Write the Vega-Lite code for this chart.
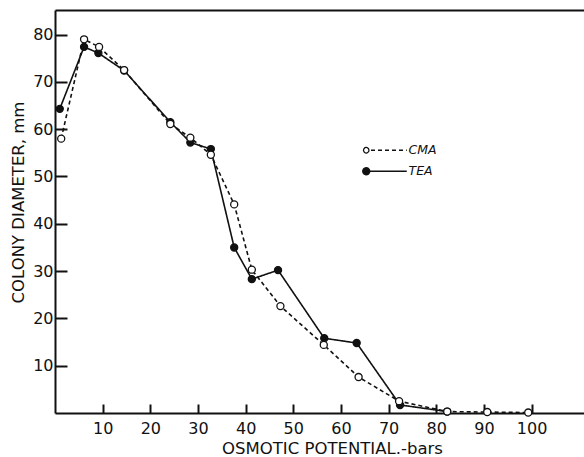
{
  "$schema": "https://vega.github.io/schema/vega-lite/v6.json",
  "width": 529,
  "height": 403,
  "autosize": "none",
  "padding": {"left": 55, "top": 10, "right": 0, "bottom": 44},
  "background": "white",
  "config": {
    "view": {"stroke": null},
    "font": "DejaVu Sans",
    "axis": {"grid": false, "domainColor": "#111", "tickColor": "#111", "labelColor": "#111", "titleColor": "#111", "domainWidth": 2, "tickWidth": 2}
  },
  "data": {"values": [
    {"series": "TEA", "x": 1.0, "y": 64.3},
    {"series": "TEA", "x": 6.1, "y": 77.4},
    {"series": "TEA", "x": 9.1, "y": 76.1},
    {"series": "TEA", "x": 14.5, "y": 72.4},
    {"series": "TEA", "x": 24.2, "y": 61.5},
    {"series": "TEA", "x": 28.4, "y": 57.2},
    {"series": "TEA", "x": 32.7, "y": 55.8},
    {"series": "TEA", "x": 37.6, "y": 35.0},
    {"series": "TEA", "x": 41.3, "y": 28.3},
    {"series": "TEA", "x": 46.8, "y": 30.2},
    {"series": "TEA", "x": 56.5, "y": 15.8},
    {"series": "TEA", "x": 63.3, "y": 14.8},
    {"series": "TEA", "x": 72.4, "y": 1.7},
    {"series": "TEA", "x": 82.3, "y": 0.3},
    {"series": "CMA", "x": 1.3, "y": 58.0},
    {"series": "CMA", "x": 6.1, "y": 79.0},
    {"series": "CMA", "x": 9.25, "y": 77.4},
    {"series": "CMA", "x": 14.5, "y": 72.5},
    {"series": "CMA", "x": 24.2, "y": 61.1},
    {"series": "CMA", "x": 28.4, "y": 58.2},
    {"series": "CMA", "x": 32.7, "y": 54.6},
    {"series": "CMA", "x": 37.6, "y": 44.1},
    {"series": "CMA", "x": 41.3, "y": 30.3},
    {"series": "CMA", "x": 47.3, "y": 22.6},
    {"series": "CMA", "x": 56.4, "y": 14.4},
    {"series": "CMA", "x": 63.7, "y": 7.6},
    {"series": "CMA", "x": 72.2, "y": 2.5},
    {"series": "CMA", "x": 82.3, "y": 0.3},
    {"series": "CMA", "x": 90.7, "y": 0.2},
    {"series": "CMA", "x": 99.3, "y": 0.1}
  ]},
  "resolve": {"axis": {"x": "independent", "y": "independent"}},
  "layer": [
    {
      "mark": {"type": "line", "stroke": "#111", "strokeWidth": 1.6},
      "encoding": {
        "x": {"field": "x", "type": "quantitative", "scale": {"domain": [0, 111], "nice": false, "zero": false},
          "axis": {"orient": "bottom", "values": [10,20,30,40,50,60,70,80,90,100], "tickSize": -9, "labelPadding": 16, "labelFontSize": 16, "title": "OSMOTIC POTENTIAL.-bars", "titleFontSize": 16.5, "titleFontWeight": "normal", "titleX": 277, "titleY": 35, "titleBaseline": "middle", "titleAnchor": "middle"}},
        "y": {"field": "y", "type": "quantitative", "scale": {"domain": [0, 85.2], "nice": false},
          "axis": {"orient": "left", "values": [10,20,30,40,50,60,70,80], "tickSize": -12, "labelPadding": 14, "labelFontSize": 16, "title": "COLONY DIAMETER, mm", "titleFontSize": 16.5, "titleFontWeight": "normal", "titleX": -37, "titleY": 192, "titleBaseline": "middle", "titleAnchor": "middle", "titleAngle": -90}},
        "detail": {"field": "series"},
        "strokeDash": {"field": "series", "type": "nominal",
          "scale": {"domain": ["CMA", "TEA"], "range": [[4, 3], [1, 0]]},
          "legend": {
            "title": null, "orient": "none", "legendX": 305, "legendY": 134,
            "symbolType": "circle",
            "symbolSize": 100, "symbolStrokeColor": "#111", "symbolStrokeWidth": 1.3,
            "labelFontSize": 12.5, "labelFontStyle": "italic", "labelColor": "#111", "labelOffset": 36,
            "rowPadding": 8,
            "encode": {"symbols": {"update": {
              "shape": {"signal": "datum.value === 'TEA' ? 'M-0.7,0 A0.7,0.7 0 1,0 0.7,0 A0.7,0.7 0 1,0 -0.7,0 M0.7,0 L8.1,0' : 'M0.55,0 A0.55,0.55 0 0,1 0.17,0.523 M0.17,0.523 A0.55,0.55 0 0,1 -0.445,0.323 M-0.445,0.323 A0.55,0.55 0 0,1 -0.445,-0.323 M-0.445,-0.323 A0.55,0.55 0 0,1 0.17,-0.523 M0.17,-0.523 A0.55,0.55 0 0,1 0.55,0 M0.95,0 L8.1,0'"},
              "fill": {"signal": "datum.value === 'TEA' ? '#111' : 'white'"},
              "stroke": {"value": "#111"}
            }}}
          }}
      }
    },
    {
      "mark": {"type": "point", "shape": "circle", "filled": true, "size": 50, "opacity": 1, "stroke": "#111", "strokeWidth": 1.3},
      "encoding": {
        "x": {"field": "x", "type": "quantitative", "axis": {"orient": "top", "labels": false, "ticks": false, "title": null, "domainWidth": 2}},
        "y": {"field": "y", "type": "quantitative", "axis": {"orient": "right", "labels": false, "ticks": false, "title": null, "domainColor": "#e4e4e4", "domainWidth": 1}},
        "fill": {"field": "series", "type": "nominal", "scale": {"domain": ["CMA", "TEA"], "range": ["white", "#111"]}, "legend": null}
      }
    }
  ]
}
